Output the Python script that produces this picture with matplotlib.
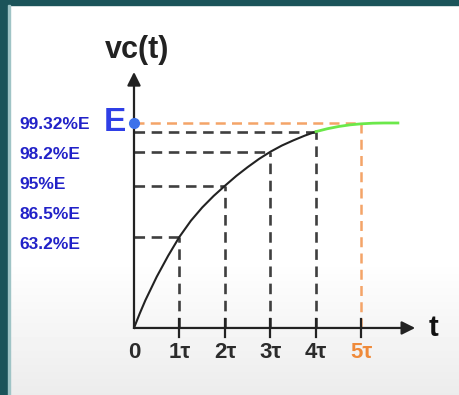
import numpy as np
import matplotlib
matplotlib.use("Agg")
import matplotlib.pyplot as plt
from matplotlib.patches import Rectangle

# data (t in units of tau, v as fraction of E)
tick_t = [1, 2, 3, 4, 5]
tick_labels = ["1τ", "2τ", "3τ", "4τ", "5τ"]
mark_t = [1, 2, 3, 4]
mark_v = [0.445, 0.694, 0.860, 0.958]
curve_t = [0, 0.125, 0.25, 0.5, 0.75, 1, 1.25, 1.5, 1.75, 2, 2.25, 2.5,
           2.75, 3, 3.25, 3.5, 3.75, 4]
curve_v = [0, 0.07, 0.135, 0.25, 0.352, 0.445, 0.523, 0.588, 0.644, 0.694,
           0.742, 0.785, 0.825, 0.860, 0.890, 0.915, 0.938, 0.958]
green_t = [4, 4.25, 4.5, 4.75, 5, 5.25, 5.5, 5.8]
green_v = [0.958, 0.972, 0.983, 0.991, 0.996, 0.999, 1.0, 1.0]
level_labels = ["99.32%E", "98.2%E", "95%E", "86.5%E", "63.2%E"]

plt.rcParams['font.family'] = ['Liberation Sans', 'DejaVu Sans']

fig = plt.figure(figsize=(4.59, 3.95), dpi=100)

# background: white with a light grey fade at the bottom
bg = fig.add_axes([0, 0, 1, 1])
rows = np.ones(395)
rows[260:] = np.linspace(1.0, 0.925, 135)
bg.imshow(np.tile(rows[:, None], (1, 10)), cmap="gray", vmin=0, vmax=1,
          aspect="auto", extent=[0, 1, 0, 1])
bg.set_axis_off()
fig.patches.append(Rectangle((0, 1 - 5 / 395), 1, 5 / 395, transform=fig.transFigure,
                             color="#1b545a", zorder=5))
fig.patches.append(Rectangle((0, 0), 8 / 459, 1, transform=fig.transFigure,
                             color="#1b545a", zorder=5))
fig.patches.append(Rectangle((8 / 459, 0), 2 / 459, 1 - 5 / 395, transform=fig.transFigure,
                             color="#9fc4c6", zorder=5))

ax = fig.add_axes([0, 0, 1, 1])
ax.patch.set_alpha(0)
ax.set_xlim(-2.945, 7.143)
ax.set_ylim(-0.327, 1.6)
ax.set_axis_off()

dash = dict(color="#3f3f3f", lw=1.9, dashes=(4, 2.5))

# guides
for t, v in zip(mark_t, mark_v):
    ax.plot([0, t], [v, v], **dash)
    ax.plot([t, t], [0, v], **dash)
ax.plot([0, 5], [1, 1], color="#f4a468", lw=1.8, dashes=(4, 2.5))
ax.plot([5, 5], [0, 1], color="#f4a468", lw=1.8, dashes=(4, 2.5))

# curve
ax.plot(curve_t, curve_v, color="#222222", lw=1.5)
ax.plot(green_t, green_v, color="#6be84a", lw=2.0)

# axes with arrows
arrow = dict(arrowstyle="-|>", color="#222222", lw=1.6, mutation_scale=20,
             shrinkA=0, shrinkB=0)
ax.annotate("", xy=(6.18, 0), xytext=(0, 0), arrowprops=arrow)
ax.annotate("", xy=(0, 1.249), xytext=(0, 0), arrowprops=arrow)

# ticks
for t in tick_t:
    ax.plot([t, t], [-0.045, 0.045], color="#222222", lw=1.6)
ax.text(0, -0.122, "0", ha="center", va="center", fontsize=16,
        fontweight="bold", color="#2b2b2b")
for t, lab in zip(tick_t, tick_labels):
    col = "#ef8a3a" if t == 5 else "#2b2b2b"
    ax.text(t, -0.122, lab, ha="center", va="center", fontsize=16,
            fontweight="bold", color=col)

ax.text(6.59, 0.0, "t", ha="center", va="center", fontsize=21,
        fontweight="bold", color="#111111")
ax.text(0.066, 1.356, "vc(t)", ha="center", va="center", fontsize=22,
        fontweight="bold", color="#222222")

# E marker and labels
ax.plot([0], [1], "o", color="#3d72ea", ms=7, zorder=6)
ax.text(-0.42, 1.0, "E", ha="center", va="center", fontsize=24,
        fontweight="bold", color="#2f3fe6")
for y, lab in zip(np.linspace(0.995, 0.405, 5), level_labels):
    ax.text(-2.52, y, lab, ha="left", va="center", fontsize=12.5,
            fontweight="bold", color="#2222c8")

fig.savefig("out.png", dpi=100)
